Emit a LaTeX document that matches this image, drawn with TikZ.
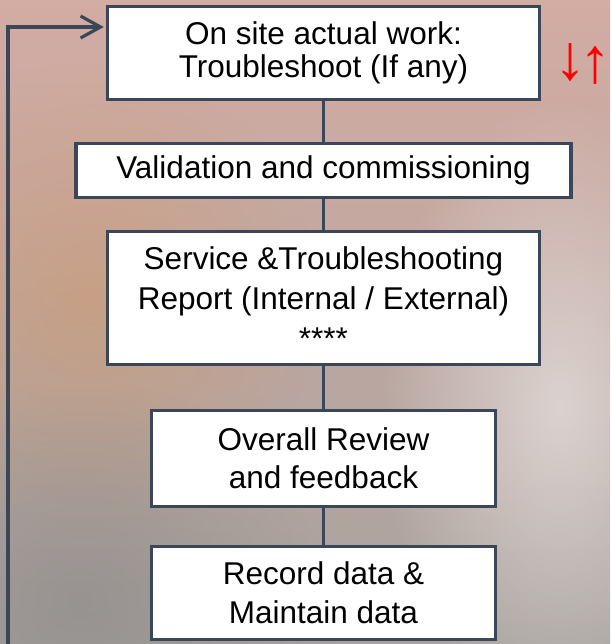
\documentclass[tikz,border=0pt]{standalone}
\usepackage{fontspec}
\setmainfont{Liberation Sans}
\usetikzlibrary{arrows.meta, fadings}
\definecolor{slate}{RGB}{59,70,89}
\definecolor{bgtop}{RGB}{211,172,163}
\definecolor{bgmid}{RGB}{210,186,162}
\definecolor{bgbot}{RGB}{168,162,158}
\tikzfading[name=softglow, inner color=transparent!0, outer color=transparent!100]
\tikzstyle{stepbox} = [rectangle, draw=slate, line width=3.3pt, fill=white, text=black, align=center, inner sep=2pt]
\tikzstyle{link} = [draw=slate, line width=3.2pt]
\tikzstyle{arrow} = [draw=slate, line width=3.2pt, -{Straight Barb[length=20pt, width=22pt, line width=3.2pt]}]

\begin{document}
\begin{tikzpicture}[x=1pt, y=-1pt, node distance=130pt]
                % background
                \useasboundingbox (0,0) rectangle (610,644);
                \shade [top color=bgtop, middle color=bgmid, bottom color=bgbot] (0,0) rectangle (610,644);
                \fill [white, opacity=0.5, path fading=softglow] (380,100) rectangle (740,720);
                \fill [orange!60!brown, opacity=0.2, path fading=softglow] (-140,60) rectangle (320,540);
                \fill [gray, opacity=0.45, path fading=softglow] (-180,380) rectangle (340,820);

                \node (onsite) [stepbox, minimum width=432pt, minimum height=93pt, font=\fontsize{31.5}{32.5}\selectfont] at (323.5,53) {On site actual work:\\Troubleshoot (If any)};
                \node (valid) [stepbox, below of=onsite, yshift=12.5pt, minimum width=495pt, minimum height=54pt, font=\fontsize{31.5}{36}\selectfont] {Validation and commissioning};
                \node (report) [stepbox, below of=valid, yshift=2.5pt, minimum width=432pt, minimum height=133pt, font=\fontsize{31.5}{40}\selectfont] {Service \&Troubleshooting\\Report (Internal / External)\\****};
                \node (review) [stepbox, below of=report, yshift=-30.5pt, minimum width=344pt, minimum height=96pt, font=\fontsize{31.5}{38}\selectfont] {Overall Review\\and feedback};
                \node (record) [stepbox, below of=review, yshift=-4.5pt, minimum width=344pt, minimum height=93pt, font=\fontsize{31.5}{39}\selectfont] {Record data \&\\Maintain data};
                \node (updown) [text=red, font=\fontsize{64}{64}\selectfont, inner sep=0pt] at (583,64) {\raisebox{3pt}{↓}\kern-7pt↑};
                \coordinate (loopfoot) at (8,648);
                \coordinate (loopturn) at (8,27);

                \draw [link] (onsite) -- (valid);
                \draw [link] (valid) -- (report);
                \draw [link] (report) -- (review);
                \draw [link] (review) -- (record);
                \draw [arrow, shorten >=2pt] (loopfoot) -- (loopturn) -- (onsite.west |- loopturn);
            \end{tikzpicture}
\end{document}
